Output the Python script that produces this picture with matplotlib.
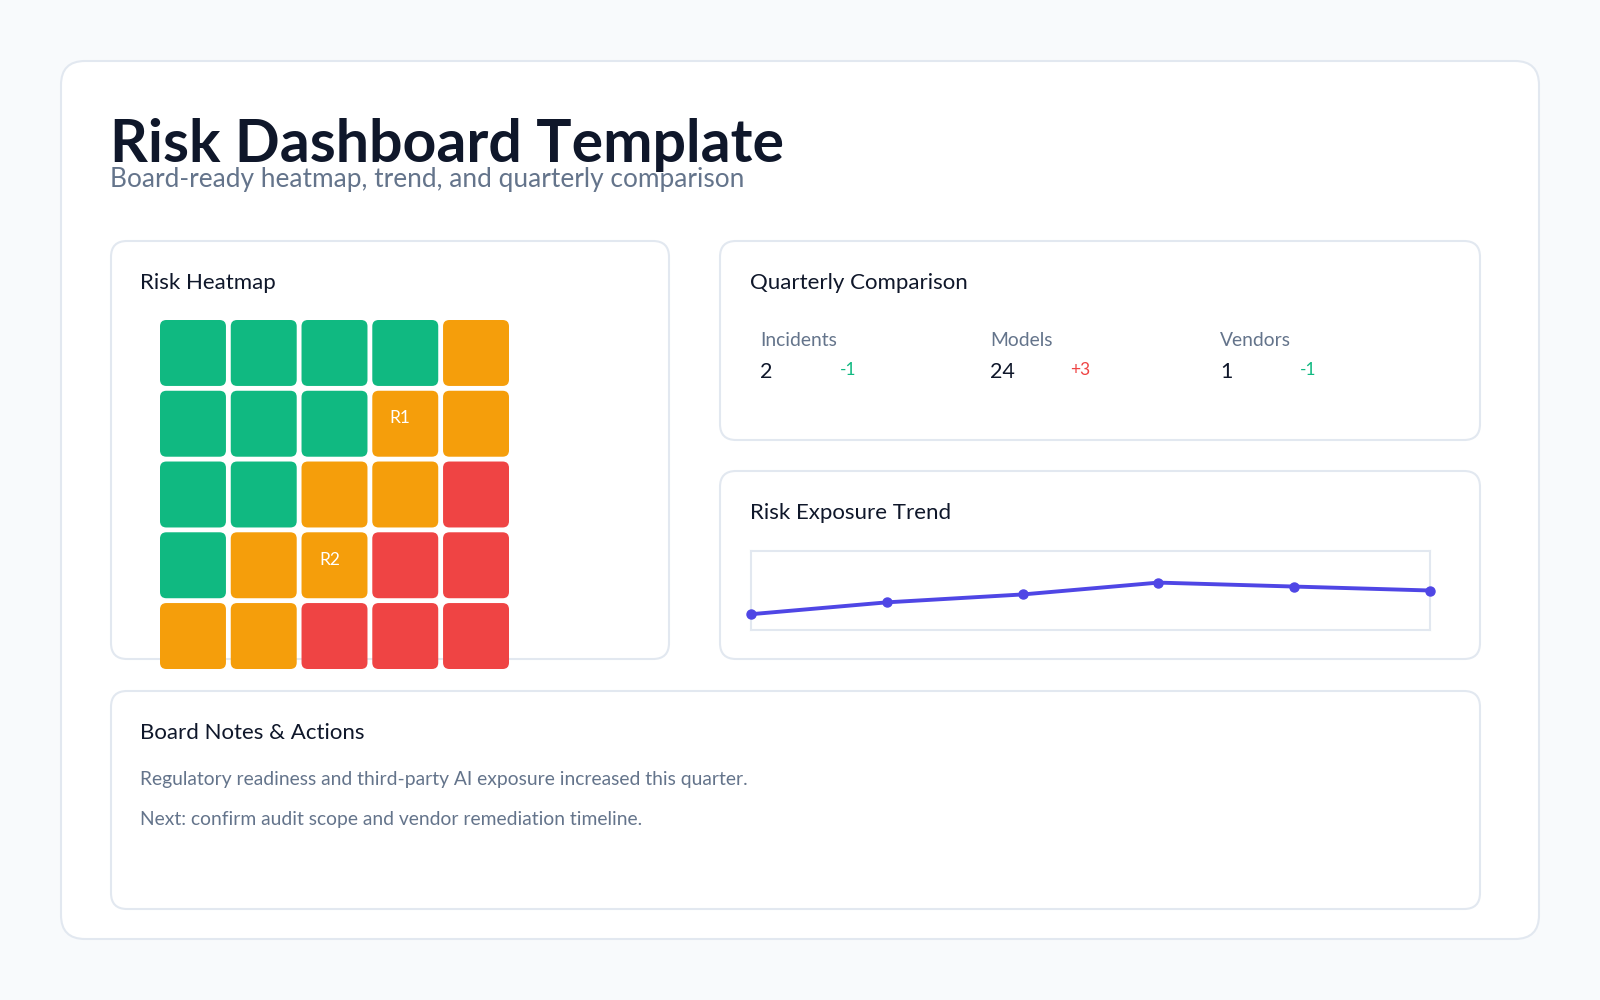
import matplotlib
matplotlib.use("Agg")
import matplotlib.pyplot as plt
from matplotlib.patches import FancyBboxPatch

plt.rcParams['font.family'] = ['Lato', 'DejaVu Sans']

# ---- data ----
title = "Risk Dashboard Template"
subtitle = "Board-ready heatmap, trend, and quarterly comparison"

# heatmap levels, top row first (0 = low, 1 = medium, 2 = high)
heat_levels = [
    [0, 0, 0, 0, 1],
    [0, 0, 0, 1, 1],
    [0, 0, 1, 1, 2],
    [0, 1, 1, 2, 2],
    [1, 1, 2, 2, 2],
]
heat_tags = {(1, 3): "R1", (3, 2): "R2"}

metric_names = ["Incidents", "Models", "Vendors"]
metric_values = ["2", "24", "1"]
metric_deltas = ["-1", "+3", "-1"]

trend_values = [20, 35, 45, 60, 55, 50]

notes = [
    "Regulatory readiness and third-party AI exposure increased this quarter.",
    "Next: confirm audit scope and vendor remediation timeline.",
]

level_colors = ["#10b981", "#f59e0b", "#ef4444"]
ink = "#0f172a"
muted = "#64748b"
border = "#e2e8f0"

fig = plt.figure(figsize=(16, 10), dpi=100)
fig.patch.set_facecolor("#f8fafc")
base = fig.add_axes([0, 0, 1, 1])
base.set_xlim(0, 1600)
base.set_ylim(1000, 0)
base.axis("off")


def card(x, y, w, h, r):
    base.add_patch(FancyBboxPatch((x, y), w, h,
                                  boxstyle=f"round,pad=0,rounding_size={r}",
                                  facecolor="white", edgecolor=border, linewidth=1.5))


card(61, 61, 1478, 878, 24)
card(111, 241, 558, 418, 16)
card(720, 241, 760, 199, 16)
card(720, 471, 760, 188, 16)
card(111, 691, 1369, 218, 16)

base.text(110, 162, title, fontsize=42.5, fontweight="bold", color=ink, va="baseline")
base.text(110, 180, subtitle, fontsize=18.9, color=muted, va="center")

base.text(140, 283, "Risk Heatmap", fontsize=16, color=ink, va="center")
base.text(750, 283, "Quarterly Comparison", fontsize=16, color=ink, va="center")
base.text(750, 513, "Risk Exposure Trend", fontsize=16, color=ink, va="center")
base.text(140, 733, "Board Notes & Actions", fontsize=16, color=ink, va="center")

# quarterly metrics
for i, name in enumerate(metric_names):
    x0 = 760 + i * 230
    base.text(x0, 341, name, fontsize=13.9, color=muted, va="center")
    base.text(x0, 372, metric_values[i], fontsize=15.5, color=ink, va="center")
    dcol = level_colors[2] if metric_deltas[i].startswith("+") else level_colors[0]
    base.text(x0 + 80, 370, metric_deltas[i], fontsize=12.5, color=dcol, va="center")

# notes
for i, line in enumerate(notes):
    base.text(140, 780 + i * 40, line, fontsize=13.9, color=muted, va="center")

# heatmap
s = 0.932
hax = fig.add_axes([160 / 1600, 1 - 669 / 1000, 349 / 1600, 349 / 1000])
hax.set_xlim(-s / 2, 4 + s / 2)
hax.set_ylim(4 + s / 2, -s / 2)
hax.axis("off")
for r, row in enumerate(heat_levels):
    for c, lvl in enumerate(row):
        hax.add_patch(FancyBboxPatch((c - s / 2, r - s / 2), s, s,
                                     boxstyle="round,pad=0,rounding_size=0.09",
                                     facecolor=level_colors[lvl], edgecolor="none",
                                     clip_on=False))
        if (r, c) in heat_tags:
            hax.text(c - 0.07, r - 0.08, heat_tags[(r, c)], color="white", fontsize=12.5,
                     ha="center", va="center")

# trend
tax = fig.add_axes([751 / 1600, 1 - 630 / 1000, 679 / 1600, 79 / 1000])
tax.plot(range(len(trend_values)), trend_values, color="#4f46e5", linewidth=2.8,
         marker="o", markersize=6.5, clip_on=False, zorder=3)
tax.set_xlim(0, len(trend_values) - 1)
tax.set_ylim(0, 100)
tax.set_xticks([])
tax.set_yticks([])
for sp in tax.spines.values():
    sp.set_color(border)
    sp.set_linewidth(1.5)

fig.savefig("out.png", dpi=100, facecolor=fig.get_facecolor())
